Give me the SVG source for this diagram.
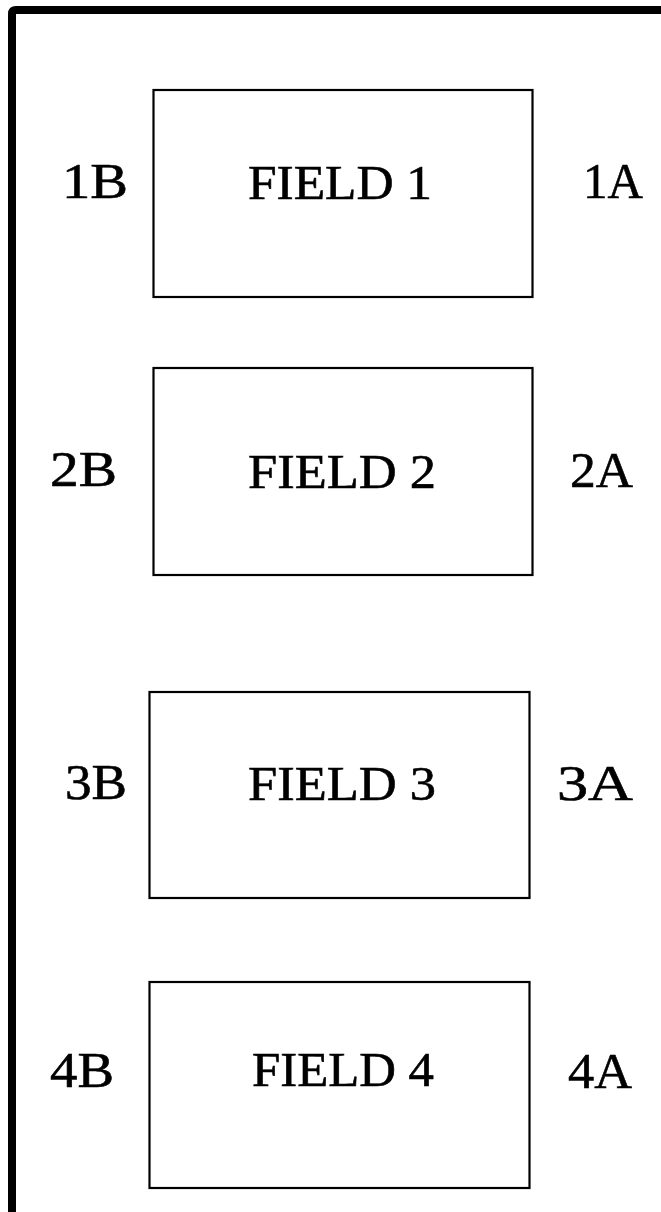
<svg xmlns="http://www.w3.org/2000/svg" width="661" height="1212" viewBox="0 0 661 1212">
<style>
.frame{fill:none;stroke:#000;stroke-width:8;stroke-linejoin:round}
.box{fill:#fff;stroke:#000;stroke-width:2.2}
.t{font-family:"Liberation Serif","DejaVu Serif",serif;fill:#000;stroke:#000;stroke-width:0.6;font-size:48px}
.l{font-family:"Liberation Serif","DejaVu Serif",serif;fill:#000;stroke:#000;stroke-width:0.6;font-size:50px}
</style>
<rect width="661" height="1212" fill="#fff"/>
<path class="frame" d="M12,1230 V14 Q12,10 16,10 H680"/>
<g id="field1">
<rect class="box" x="153.5" y="90" width="379" height="207"/>
<text class="t" x="248" y="199" textLength="184" lengthAdjust="spacingAndGlyphs">FIELD 1</text>
</g>
<g id="field2">
<rect class="box" x="153.5" y="368" width="379" height="207"/>
<text class="t" x="248" y="488" textLength="188" lengthAdjust="spacingAndGlyphs">FIELD 2</text>
</g>
<g id="field3">
<rect class="box" x="149.5" y="692" width="380" height="206"/>
<text class="t" x="248" y="800" textLength="188" lengthAdjust="spacingAndGlyphs">FIELD 3</text>
</g>
<g id="field4">
<rect class="box" x="149.5" y="982" width="380" height="206"/>
<text class="t" x="252" y="1086" textLength="182" lengthAdjust="spacingAndGlyphs">FIELD 4</text>
</g>
<g id="labels">
<text class="l" x="62" y="198" textLength="66" lengthAdjust="spacingAndGlyphs">1B</text>
<text class="l" x="583" y="198" textLength="60" lengthAdjust="spacingAndGlyphs">1A</text>
<text class="l" x="50" y="486" textLength="67" lengthAdjust="spacingAndGlyphs">2B</text>
<text class="l" x="570" y="487" textLength="63" lengthAdjust="spacingAndGlyphs">2A</text>
<text class="l" x="65" y="799" textLength="62" lengthAdjust="spacingAndGlyphs">3B</text>
<text class="l" x="557" y="800" textLength="76" lengthAdjust="spacingAndGlyphs">3A</text>
<text class="l" x="50" y="1087" textLength="64" lengthAdjust="spacingAndGlyphs">4B</text>
<text class="l" x="568" y="1088" textLength="64" lengthAdjust="spacingAndGlyphs">4A</text>
</g>
<g id="connectors"></g>
</svg>
